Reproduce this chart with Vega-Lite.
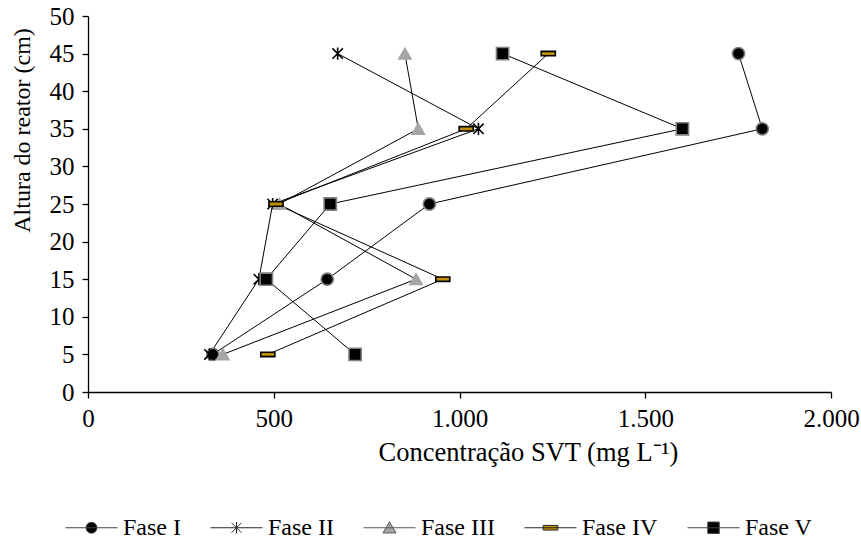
{
  "$schema": "https://vega.github.io/schema/vega-lite/v6.json",
  "width": 743,
  "height": 376,
  "autosize": {"type": "none"},
  "padding": {"left": 88, "top": 16, "right": 30, "bottom": 147},
  "background": "white",
  "config": {
    "view": {"stroke": null},
    "locale": {"number": {"decimal": ",", "thousands": ".", "grouping": [3], "currency": ["", ""]}},
    "font": "Liberation Serif",
    "axis": {
      "labelFont": "Liberation Serif", "labelFontSize": 25, "labelColor": "black",
      "titleFont": "Liberation Serif", "titleFontSize": 24, "titleFontWeight": "normal", "titleColor": "black",
      "domainColor": "black", "domainWidth": 1.3, "tickColor": "black", "tickWidth": 1.3, "grid": false, "tickSize": 6
    },
    "legend": {
      "orient": "none", "direction": "horizontal", "legendX": -23, "legendY": 485,
      "symbolSize": 2704, "symbolStrokeWidth": 1, "symbolOpacity": 1,
      "labelOffset": 5, "columnPadding": 27,
      "labelFont": "Liberation Serif", "labelFontSize": 24, "labelColor": "black"
    }
  },
  "data": {
    "values": [
      {"fase": "Fase I", "altura": 45, "svt": 1751},
      {"fase": "Fase I", "altura": 35, "svt": 1815},
      {"fase": "Fase I", "altura": 25, "svt": 919},
      {"fase": "Fase I", "altura": 15, "svt": 644},
      {"fase": "Fase I", "altura": 5, "svt": 336},
      {"fase": "Fase II", "altura": 45, "svt": 672},
      {"fase": "Fase II", "altura": 35, "svt": 1051},
      {"fase": "Fase II", "altura": 25, "svt": 497},
      {"fase": "Fase II", "altura": 15, "svt": 460},
      {"fase": "Fase II", "altura": 5, "svt": 327},
      {"fase": "Fase III", "altura": 45, "svt": 853},
      {"fase": "Fase III", "altura": 35, "svt": 889},
      {"fase": "Fase III", "altura": 25, "svt": 515},
      {"fase": "Fase III", "altura": 15, "svt": 883},
      {"fase": "Fase III", "altura": 5, "svt": 363},
      {"fase": "Fase IV", "altura": 45, "svt": 1239},
      {"fase": "Fase IV", "altura": 35, "svt": 1018},
      {"fase": "Fase IV", "altura": 25, "svt": 506},
      {"fase": "Fase IV", "altura": 15, "svt": 955},
      {"fase": "Fase IV", "altura": 5, "svt": 484},
      {"fase": "Fase V", "altura": 45, "svt": 1116},
      {"fase": "Fase V", "altura": 35, "svt": 1600},
      {"fase": "Fase V", "altura": 25, "svt": 652},
      {"fase": "Fase V", "altura": 15, "svt": 480},
      {"fase": "Fase V", "altura": 5, "svt": 719}
    ]
  },
  "encoding": {
    "x": {
      "field": "svt", "type": "quantitative",
      "scale": {"domain": [0, 2000], "nice": false},
      "axis": {"values": [0, 500, 1000, 1500, 2000], "format": ",.0f", "labelPadding": 8, "titlePadding": 8, "title": "Concentração SVT (mg L⁻¹)", "titleFontSize": 26.5, "titleX": 440, "titleAlign": "center", "labelFlush": false}
    },
    "y": {
      "field": "altura", "type": "quantitative",
      "scale": {"domain": [0, 50], "nice": false},
      "axis": {"values": [0, 5, 10, 15, 20, 25, 30, 35, 40, 45, 50], "labelPadding": 8, "title": "Altura do reator (cm)", "titleX": -66, "titleY": 114, "titleAlign": "center", "titleBaseline": "middle", "titleAngle": 270, "labelFlush": false}
    }
  },
  "layer": [
    {
      "mark": {"type": "line", "color": "black", "strokeWidth": 1},
      "encoding": {
        "detail": {"field": "fase", "type": "nominal"},
        "order": {"field": "altura", "type": "quantitative"}
      }
    },
    {
      "mark": {"type": "point", "filled": true, "opacity": 1, "strokeWidth": 1.6, "size": 150},
      "encoding": {
        "shape": {
          "field": "fase", "type": "nominal", "legend": null,
          "scale": {
            "domain": ["Fase I", "Fase II", "Fase III", "Fase IV", "Fase V"],
            "range": ["circle", "M-0.85,-0.85L0.85,0.85M-0.85,0.85L0.85,-0.85M0,-1V1", "triangle-up", "M-1.15,-0.36H1.15V0.36H-1.15Z", "square"]
          }
        },
        "fill": {
          "field": "fase", "type": "nominal", "legend": null,
          "scale": {
            "domain": ["Fase I", "Fase II", "Fase III", "Fase IV", "Fase V"],
            "range": ["black", "black", "#a6a6a6", "#c09000", "black"]
          }
        },
        "stroke": {
          "field": "fase", "type": "nominal", "legend": null,
          "scale": {
            "domain": ["Fase I", "Fase II", "Fase III", "Fase IV", "Fase V"],
            "range": ["#808080", "black", "#a6a6a6", "black", "#808080"]
          }
        }
      }
    },
    {
      "mark": {"type": "point", "filled": true, "opacity": 0, "strokeWidth": 1, "size": 150},
      "encoding": {
        "shape": {
          "field": "fase", "type": "nominal", "title": null,
          "scale": {
            "domain": ["Fase I", "Fase II", "Fase III", "Fase IV", "Fase V"],
            "range": [
              "M-1,0H1M-0.21,0A0.21,0.21 0 1,1 0.21,0A0.21,0.21 0 1,1 -0.21,0Z",
              "M-1,0H1M-0.19,-0.19L0.19,0.19M-0.19,0.19L0.19,-0.19M0,-0.22V0.22",
              "M-1,0H1M0,-0.23L0.25,0.2H-0.25Z",
              "M-1,0H1M-0.28,-0.09H0.28V0.09H-0.28Z",
              "M-1,0H1M-0.22,-0.22H0.22V0.22H-0.22Z"
            ]
          },
          "legend": {"title": null, "symbolOpacity": 1}
        },
        "fill": {
          "field": "fase", "type": "nominal", "title": null,
          "scale": {
            "domain": ["Fase I", "Fase II", "Fase III", "Fase IV", "Fase V"],
            "range": ["black", "black", "#a6a6a6", "#c09000", "black"]
          },
          "legend": {"title": null, "symbolOpacity": 1}
        },
        "stroke": {
          "field": "fase", "type": "nominal", "title": null,
          "scale": {
            "domain": ["Fase I", "Fase II", "Fase III", "Fase IV", "Fase V"],
            "range": ["#404040", "#262626", "#595959", "#262626", "#404040"]
          },
          "legend": {"title": null, "symbolOpacity": 1}
        }
      }
    }
  ],
  "resolve": {
    "scale": {"shape": "independent", "stroke": "independent"},
    "legend": {"shape": "independent", "fill": "independent", "stroke": "independent"}
  }
}
